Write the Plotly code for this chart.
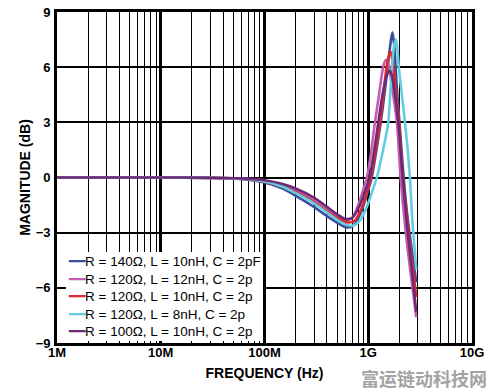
import plotly.graph_objects as go

# ---------------- data (frequency in MHz, magnitude in dB) ----------------
series_labels = [
    "R = 140Ω, L = 10nH, C = 2pF",
    "R = 120Ω, L = 12nH, C = 2p",
    "R = 120Ω, L = 10nH, C = 2p",
    "R = 120Ω, L = 8nH, C = 2p",
    "R = 100Ω, L = 10nH, C = 2p",
]
series_colors = ["#3b4f9f", "#c45cb2", "#e3262c", "#63cde0", "#6c2a74"]

f_r140_l10 = [1, 10, 30, 60, 100, 150, 200, 300, 400, 500, 620, 720, 850, 950, 1080,
              1200, 1320, 1430, 1540, 1640, 1710, 1780, 1880, 2000, 2150, 2350, 2550, 2750, 2900]
m_r140_l10 = [0, 0, -0.02, -0.08, -0.27, -0.6, -1.0, -1.6, -2.1, -2.45, -2.72, -2.6, -1.9, -1.1, 0.0,
              1.5, 3.0, 4.5, 6.0, 7.3, 7.9, 7.2, 5.0, 3.0, 0.6, -1.8, -3.4, -4.7, -5.7]

f_r120_l12 = [1, 10, 30, 60, 100, 150, 200, 300, 400, 500, 600, 700, 800, 880, 970,
              1060, 1160, 1270, 1390, 1460, 1500, 1560, 1650, 1760, 1890, 2050, 2300, 2600, 2900]
m_r120_l12 = [0, 0, -0.02, -0.06, -0.2, -0.45, -0.72, -1.25, -1.75, -2.1, -2.35, -2.2, -1.5, -0.8, 0.0,
              1.3, 3.0, 4.5, 6.0, 6.35, 6.4, 6.2, 5.4, 4.3, 3.0, 0.0, -3.0, -5.5, -7.6]

f_r120_l10 = [1, 10, 30, 60, 100, 150, 200, 300, 400, 500, 640, 740, 850, 950, 1060,
              1180, 1300, 1400, 1500, 1580, 1640, 1720, 1850, 1980, 2150, 2300, 2450, 2700, 2900]
m_r120_l10 = [0, 0, -0.02, -0.07, -0.23, -0.5, -0.8, -1.35, -1.85, -2.2, -2.45, -2.35, -1.75, -1.0, 0.0,
              1.5, 3.0, 4.5, 6.0, 6.6, 6.85, 6.3, 4.6, 3.0, 0.0, -1.5, -3.0, -5.0, -6.5]

f_r120_l8 = [1, 10, 30, 60, 100, 150, 200, 300, 400, 500, 600, 710, 800, 900, 1000,
             1100, 1210, 1330, 1450, 1560, 1680, 1780, 1850, 1910, 1970, 2100, 2260, 2400, 2520,
             2650, 2800, 2900]
m_r120_l8 = [0, 0, -0.02, -0.07, -0.22, -0.5, -0.85, -1.4, -1.9, -2.3, -2.55, -2.62, -2.45, -2.0, -1.4,
             -0.7, 0.0, 1.0, 2.0, 3.0, 5.8, 7.2, 7.5, 7.0, 6.0, 4.6, 3.0, 1.5, 0.0,
             -2.2, -3.9, -5.0]

f_r100_l10 = [1, 10, 30, 60, 100, 150, 200, 300, 400, 500, 600, 700, 800, 900, 1030,
              1130, 1250, 1380, 1500, 1570, 1620, 1680, 1780, 1950, 2150, 2400, 2650, 2900]
m_r100_l10 = [0, 0, -0.01, -0.05, -0.15, -0.35, -0.6, -1.1, -1.6, -2.0, -2.25, -2.2, -1.7, -1.0, 0.0,
              1.3, 3.0, 4.6, 5.5, 5.75, 5.8, 5.6, 4.8, 3.0, 0.0, -3.0, -5.2, -7.3]

series_freqs = [f_r140_l10, f_r120_l12, f_r120_l10, f_r120_l8, f_r100_l10]
series_mags = [m_r140_l10, m_r120_l12, m_r120_l10, m_r120_l8, m_r100_l10]

x_tickvals = [1e6, 1e7, 1e8, 1e9, 1e10]
x_ticktext = ["1M", "10M", "100M", "1G", "10G"]
y_tickvals = [-9, -6, -3, 0, 3, 6, 9]
y_ticktext = ["−9", "−6", "−3", "0", "3", "6", "9"]

FONT = "Liberation Sans, Arial, sans-serif"

fig = go.Figure()
for lab, col, fr, mg in zip(series_labels, series_colors, series_freqs, series_mags):
    fig.add_trace(go.Scatter(
        x=[v * 1e6 for v in fr], y=mg, mode="lines", name=lab, showlegend=False,
        line=dict(color=col, width=2.6, shape="spline", smoothing=0.7),
    ))

minor_vals = [k * 10 ** e for e in range(6, 10) for k in range(2, 10)]

fig.update_xaxes(
    type="log", range=[6, 10], automargin=False,
    tickmode="array", tickvals=x_tickvals, ticktext=x_ticktext,
    showgrid=True, gridcolor="black", gridwidth=2.6,
    showline=True, linecolor="black", linewidth=2.6, mirror=True,
    ticks="", ticklabelstandoff=-4,
    tickfont=dict(family=FONT, size=13, color="black", weight="bold"),
    title=dict(text="FREQUENCY (Hz)", standoff=9,
               font=dict(family=FONT, size=14, color="black", weight="bold")),
    minor=dict(tickvals=minor_vals, showgrid=True, gridcolor="black", gridwidth=1.4,
               ticks="inside", ticklen=4, tickcolor="black", tickwidth=1),
    zeroline=False,
)
fig.update_yaxes(
    range=[-9, 9], automargin=False,
    tickmode="array", tickvals=y_tickvals, ticktext=y_ticktext,
    showgrid=True, gridcolor="black", gridwidth=1.6,
    showline=True, linecolor="black", linewidth=2.6, mirror=True,
    ticks="", zeroline=False, ticklabelstandoff=1,
    tickfont=dict(family=FONT, size=13, color="black", weight="bold"),
    title=dict(text="MAGNITUDE (dB)", standoff=2,
               font=dict(family=FONT, size=14, color="black", weight="bold")),
)

# legend block built from the series lists (short colour swatch + label per row)
legend_text = "<br>".join(
    f"<span style='color:{c}'>━━</span>{lab}" for lab, c in zip(series_labels, series_colors)
)

fig.update_layout(
    width=494, height=391,
    margin=dict(l=57, r=22, t=12, b=48),
    paper_bgcolor="white", plot_bgcolor="white",
    showlegend=False,
    annotations=[
        dict(
            text=legend_text, xref="paper", yref="paper",
            x=0.022, y=0.006, xanchor="left", yanchor="bottom", align="left",
            showarrow=False, bgcolor="white", borderpad=2, borderwidth=0,
            font=dict(family=FONT, size=13.5, color="black"),
        ),
        dict(
            text="富运链动科技网", xref="paper", yref="paper",
            x=1.0386, y=-0.062, xanchor="right", yanchor="top", showarrow=False,
            borderpad=0,
            font=dict(family="Noto Sans CJK SC", size=18, color="#a3a3a3", weight="bold"),
        ),
    ],
)

fig.write_html(
    "out.html",
    config={"displayModeBar": False},
    post_script="document.body.style.margin='0';document.body.style.padding='0';"
                "document.body.style.overflow='hidden';",
)
